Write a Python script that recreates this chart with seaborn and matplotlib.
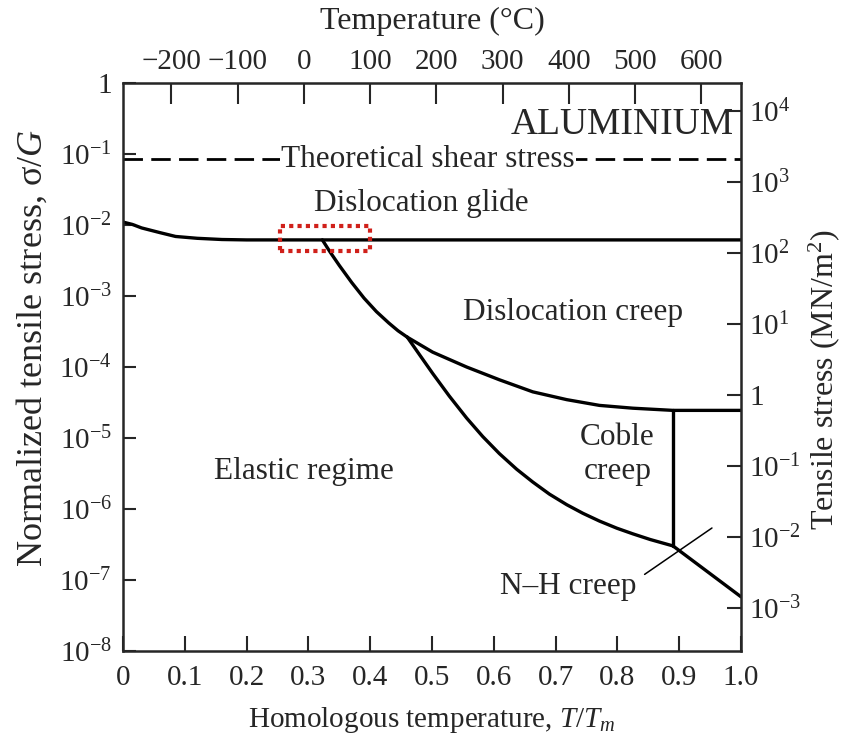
import numpy as np
import pandas as pd
import matplotlib
matplotlib.use("Agg")
import matplotlib.pyplot as plt
import seaborn as sns
from matplotlib.patches import Rectangle

# ---------------- data ----------------
TM = 933.0          # melting point of Al, K
G_MOD = 2.5e4       # shear modulus, MN/m^2

theo_shear = 0.085

glide_x = [0.0, 0.015, 0.03, 0.06, 0.085, 0.12, 0.16, 0.2, 1.0]
glide_y = [1.1e-2, 1.02e-2, 9.1e-3, 7.8e-3, 6.9e-3, 6.5e-3, 6.25e-3, 6.17e-3, 6.17e-3]

elastic_x = [0.3225, 0.335, 0.35, 0.37, 0.39, 0.41, 0.43, 0.445, 0.460]
elastic_y = [6.17e-3, 4.17e-3, 2.69e-3, 1.55e-3, 9.33e-4, 6.03e-4, 4.17e-4, 3.24e-4, 2.63e-4]

coble_low_x = [0.460, 0.480, 0.501, 0.528, 0.556, 0.582, 0.609, 0.637, 0.663, 0.690,
               0.718, 0.744, 0.771, 0.799, 0.825, 0.853, 0.890]
coble_low_y = [2.63e-4, 1.48e-4, 8.13e-5, 3.89e-5, 1.91e-5, 1.05e-5, 6.03e-6, 3.63e-6,
               2.40e-6, 1.62e-6, 1.15e-6, 8.71e-7, 6.76e-7, 5.37e-7, 4.47e-7, 3.72e-7, 3.02e-7]

creep_x = [0.460, 0.501, 0.556, 0.609, 0.663, 0.718, 0.771, 0.825, 0.890, 1.0]
creep_y = [2.63e-4, 1.62e-4, 1.0e-4, 6.61e-5, 4.47e-5, 3.47e-5, 2.88e-5, 2.63e-5, 2.45e-5, 2.45e-5]

vert_x = [0.89, 0.89]
vert_y = [2.45e-5, 3.02e-7]

nh_x = [0.89, 1.0]
nh_y = [3.02e-7, 5.8e-8]

leader_x = [0.844, 0.953]
leader_y = [1.2e-7, 5.4e-7]

x_ticks = [0.0, 0.1, 0.2, 0.3, 0.4, 0.5, 0.6, 0.7, 0.8, 0.9, 1.0]
x_ticklabels = ["0", "0.1", "0.2", "0.3", "0.4", "0.5", "0.6", "0.7", "0.8", "0.9", "1.0"]
y_ticks = [1, 1e-1, 1e-2, 1e-3, 1e-4, 1e-5, 1e-6, 1e-7, 1e-8]
y_ticklabels = ["1", r"$10^{-1}$", r"$10^{-2}$", r"$10^{-3}$", r"$10^{-4}$",
                r"$10^{-5}$", r"$10^{-6}$", r"$10^{-7}$", r"$10^{-8}$"]
temp_ticks = [-200, -100, 0, 100, 200, 300, 400, 500, 600]
temp_ticklabels = ["\u2212200", "\u2212100", "0", "100", "200", "300", "400", "500", "600"]
stress_ticks = [1e4, 1e3, 1e2, 1e1, 1, 1e-1, 1e-2, 1e-3]
stress_ticklabels = [r"$10^{4}$", r"$10^{3}$", r"$10^{2}$", r"$10^{1}$", "1",
                     r"$10^{-1}$", r"$10^{-2}$", r"$10^{-3}$"]

# ---------------- style ----------------
sns.set_style("ticks")
plt.rcParams["font.family"] = ["Liberation Serif", "DejaVu Serif"]
plt.rcParams["mathtext.fontset"] = "custom"
plt.rcParams["mathtext.rm"] = "Liberation Serif"
plt.rcParams["mathtext.it"] = "Liberation Serif:italic"
plt.rcParams["mathtext.default"] = "rm"

FS = 21
FT = 22.5
LW = 2.4
fig = plt.figure(figsize=(8.43, 7.44), dpi=100)
ax = fig.add_axes([0.146, 0.125, 0.733, 0.7634])

def draw(x, y, lw=LW, ls="-"):
    df = pd.DataFrame({"x": x, "y": y})
    sns.lineplot(data=df, x="x", y="y", ax=ax, color="black", lw=lw, ls=ls,
                 sort=False, estimator=None, solid_joinstyle="round",
                 solid_capstyle="round")

ax.set_yscale("log")
ax.set_xlim(0, 1.0)
ax.set_ylim(1e-8, 1)

draw(glide_x, glide_y)
draw(elastic_x, elastic_y)
draw(coble_low_x, coble_low_y)
draw(creep_x, creep_y)
draw(vert_x, vert_y)
draw(nh_x, nh_y)
draw(leader_x, leader_y, lw=1.1)

ax.axhline(theo_shear, color="black", lw=2.0, ls=(0, (7, 3)), zorder=1)

# texts
ax.text(0.807, 0.26, "ALUMINIUM", fontsize=27, ha="center", va="center")
ax.text(0.493, theo_shear, "Theoretical shear stress", fontsize=FT, ha="center", va="center",
        bbox=dict(facecolor="white", edgecolor="none", pad=1.0), zorder=3)
ax.text(0.483, 0.0204, "Dislocation glide", fontsize=FT, ha="center", va="center")
ax.text(0.729, 5.9e-4, "Dislocation creep", fontsize=FT, ha="center", va="center")
ax.text(0.293, 3.4e-6, "Elastic regime", fontsize=FT, ha="center", va="center")
ax.text(0.80, 5.9e-6, "Coble\ncreep", fontsize=FT, ha="center", va="center", linespacing=1.25)
ax.text(0.72, 8.0e-8, "N\u2013H creep", fontsize=FT, ha="center", va="center")

# red dotted highlight box
ax.add_patch(Rectangle((0.254, 4.3e-3), 0.145, 9.7e-3 - 4.3e-3, fill=False,
                       edgecolor="#d0201a", lw=3.0, ls=(0, (1, 1)), zorder=4))

# axes ticks
ax.set_xticks(x_ticks)
ax.set_xticklabels(x_ticklabels)
ax.set_yticks(y_ticks)
ax.set_yticklabels(y_ticklabels)
ax.minorticks_off()
ax.tick_params(axis="x", direction="in", length=11, width=1.5, labelsize=FS, pad=10)
ax.tick_params(axis="y", direction="in", length=9, width=1.5, labelsize=FS, pad=8)
for s in ax.spines.values():
    s.set_linewidth(1.8)
    s.set_visible(True)

ax.set_xlabel(r"Homologous temperature, $\mathit{T/T_m}$", fontsize=FS, labelpad=10)
ax.set_ylabel(r"Normalized tensile stress, $\sigma/\mathit{G}$", fontsize=26)
ax.yaxis.set_label_coords(-0.118, 0.533, transform=ax.transAxes)

# top temperature axis
top = ax.secondary_xaxis("top", functions=(lambda x: x * TM - 273.0, lambda t: (t + 273.0) / TM))
top.set_xticks(temp_ticks)
top.set_xticklabels(temp_ticklabels)
top.tick_params(direction="in", length=15, width=1.5, labelsize=FS, pad=6)
top.set_xlabel("Temperature (\u00b0C)", fontsize=23, labelpad=14)

# right stress axis
right = ax.secondary_yaxis("right", functions=(lambda y: y * G_MOD, lambda s: s / G_MOD))
right.set_yticks(stress_ticks)
right.set_yticklabels(stress_ticklabels)
right.minorticks_off()
right.tick_params(direction="in", length=10, width=1.5, labelsize=FS, pad=6)
right.set_ylabel(r"Tensile stress (MN/m$^{2}$)", fontsize=23)
right.yaxis.set_label_coords(1.105, 0.477, transform=ax.transAxes)

fig.savefig("out.png", dpi=100)
